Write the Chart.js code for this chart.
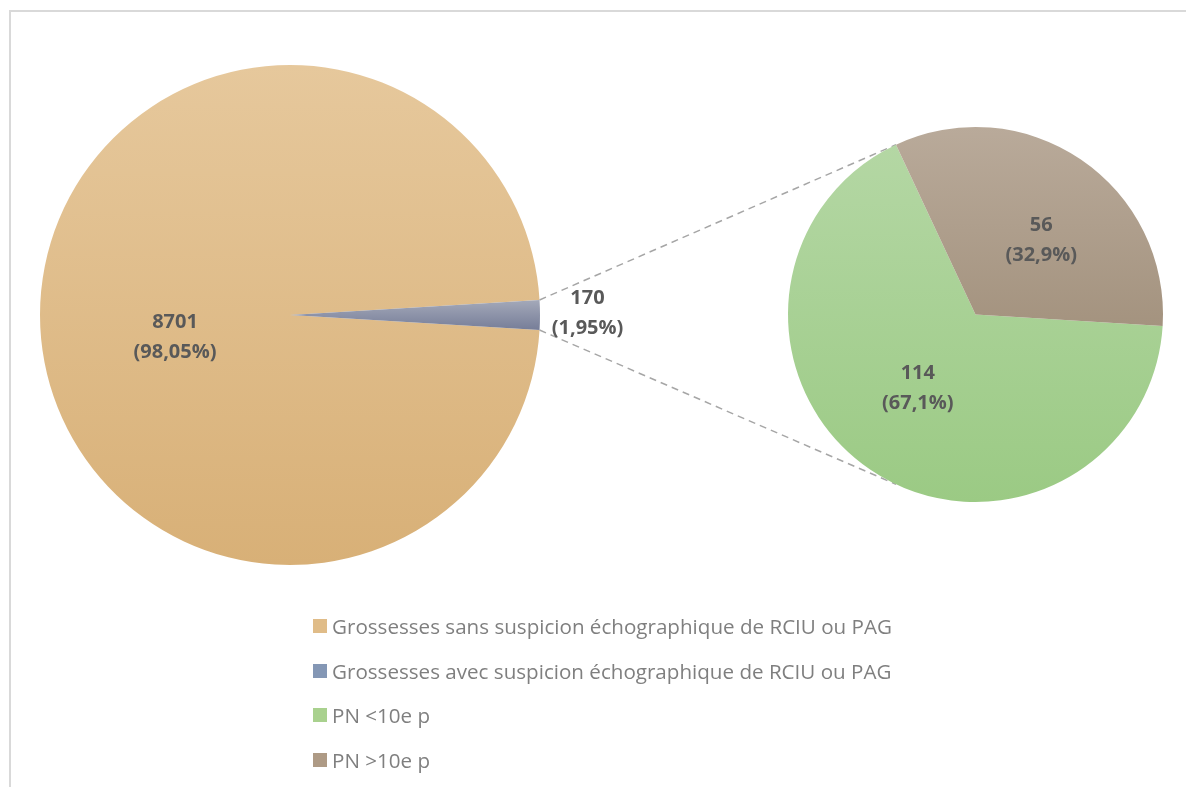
<!DOCTYPE html>
<html>
<head>
<meta charset="utf-8">
<script src="https://cdn.jsdelivr.net/npm/chart.js@4.4.1/dist/chart.umd.min.js"></script>
<style>
  body { margin: 0; background: #fff; }
  #wrap { position: relative; width: 1186px; height: 787px; overflow: hidden; background: #fff; }
  #cadre { position: absolute; left: 9px; top: 10px; width: 1300px; height: 900px;
           border-left: 2px solid #D9D9D9; border-top: 2px solid #D9D9D9; }
  #wrap canvas { position: absolute; left: 0; top: 0; }
  #legende { position: absolute; left: 313px; top: 604px; font-family: "Open Sans", sans-serif;
             font-size: 20.6px; color: #7F7F7F; }
  .item { height: 44.5px; display: flex; align-items: center; white-space: nowrap; }
  .carre { width: 14px; height: 14px; margin-right: 5px; flex: none; }
</style>
</head>
<body>
<div id="wrap">
  <div id="cadre"></div>
  <canvas id="camembert" width="1186" height="787"></canvas>
  <canvas id="sousCamembert" width="1186" height="787"></canvas>
  <div id="legende"></div>
</div>
<script>
const mainLabels = [
  "Grossesses sans suspicion échographique de RCIU ou PAG",
  "Grossesses avec suspicion échographique de RCIU ou PAG",
];
const mainValues = [8701, 170];
const mainPct = ["98,05%", "1,95%"];

const subLabels = ["PN <10e p", "PN >10e p"];
const subValues = [114, 56];
const subPct = ["67,1%", "32,9%"];

// couleurs [haut, bas] du dégradé de chaque part
const mainColors = [["#E6C89C", "#D8B077"], ["#A4A9B9", "#767D98"]];
const subColors = [["#B4D7A4", "#9BCA84"], ["#B9AA9A", "#A4937F"]];
const legendColors = ["#E0BC88", "#8497B5", "#A9D18E", "#AE9A85"];

// dégradé vertical sur la hauteur de la part
function sliceGradient(context, colors) {
  const chart = context.chart;
  const area = chart.chartArea;
  if (context.type !== "data" || !area) return colors[0][0];
  const i = context.dataIndex;
  const vals = chart.data.datasets[0].data;
  const total = vals.reduce((a, b) => a + b, 0);
  let start = (chart.options.rotation - 90) * Math.PI / 180;
  for (let k = 0; k < i; k++) start += vals[k] / total * 2 * Math.PI;
  const end = start + vals[i] / total * 2 * Math.PI;
  const ys = [0, Math.sin(start), Math.sin(end)];
  for (let a = Math.PI / 2 - 4 * Math.PI; a < end; a += Math.PI) {
    if (a > start) ys.push(Math.sin(a));
  }
  const r = Math.min(area.width, area.height) / 2;
  const cy = (area.top + area.bottom) / 2;
  const g = chart.ctx.createLinearGradient(0, cy + r * Math.min(...ys), 0, cy + r * Math.max(...ys));
  g.addColorStop(0, colors[i][0]);
  g.addColorStop(1, colors[i][1]);
  return g;
}

// étiquettes valeur + pourcentage ; place = [fraction du rayon, dx, dy]
function labelPlugin(values, pct, place) {
  return {
    id: "etiquettes",
    afterDatasetsDraw(chart) {
      const c = chart.ctx;
      const arcs = chart.getDatasetMeta(0).data;
      c.save();
      c.font = "bold 20px 'Open Sans'";
      c.fillStyle = "#595959";
      c.textAlign = "center";
      c.textBaseline = "middle";
      arcs.forEach((arc, i) => {
        const mid = (arc.startAngle + arc.endAngle) / 2;
        const d = arc.outerRadius * place[i][0];
        const x = arc.x + Math.cos(mid) * d + place[i][1];
        const y = arc.y + Math.sin(mid) * d + place[i][2];
        c.fillText(String(values[i]), x, y - 15);
        c.fillText("(" + pct[i] + ")", x, y + 15);
      });
      c.restore();
    },
  };
}

// petit camembert (à droite)
const sub = new Chart(document.getElementById("sousCamembert"), {
  type: "pie",
  data: {
    labels: subLabels,
    datasets: [{
      data: subValues,
      backgroundColor: (ctx) => sliceGradient(ctx, subColors),
      borderWidth: 0,
      hoverOffset: 0,
    }],
  },
  options: {
    responsive: false,
    animation: false,
    events: [],
    rotation: 93.5,
    layout: { padding: { left: 788, top: 127, right: 23, bottom: 285 } },
    plugins: { legend: { display: false }, tooltip: { enabled: false } },
  },
  plugins: [labelPlugin(subValues, subPct, [[0.5, -5, -4], [0.5, 13, 3]])],
});

// lignes pointillées entre la part bleue et le petit camembert
const connecteurs = {
  id: "connecteurs",
  afterDatasetsDraw(chart) {
    const a = chart.getDatasetMeta(0).data[1];
    const b = sub.getDatasetMeta(0).data[1];
    const c = chart.ctx;
    const p1 = [a.x + a.outerRadius * Math.cos(a.startAngle), a.y + a.outerRadius * Math.sin(a.startAngle)];
    const p2 = [a.x + a.outerRadius * Math.cos(a.endAngle), a.y + a.outerRadius * Math.sin(a.endAngle)];
    const q1 = [b.x + b.outerRadius * Math.cos(b.startAngle), b.y + b.outerRadius * Math.sin(b.startAngle)];
    const q2 = [q1[0], 2 * b.y - q1[1]];
    c.save();
    c.strokeStyle = "#A6A6A6";
    c.lineWidth = 1.5;
    c.setLineDash([7, 5]);
    c.beginPath();
    c.moveTo(p1[0], p1[1]);
    c.lineTo(q1[0], q1[1]);
    c.moveTo(p2[0], p2[1]);
    c.lineTo(q2[0], q2[1]);
    c.stroke();
    c.restore();
  },
};

const mainTotal = mainValues.reduce((a, b) => a + b, 0);
const blueAngle = 360 * mainValues[1] / mainTotal;

// grand camembert (à gauche)
new Chart(document.getElementById("camembert"), {
  type: "pie",
  data: {
    labels: mainLabels,
    datasets: [{
      data: mainValues,
      backgroundColor: (ctx) => sliceGradient(ctx, mainColors),
      borderWidth: 0,
      hoverOffset: 0,
    }],
  },
  options: {
    responsive: false,
    animation: false,
    events: [],
    rotation: 90 + blueAngle / 2,
    layout: { padding: { left: 40, top: 65, right: 646, bottom: 222 } },
    plugins: { legend: { display: false }, tooltip: { enabled: false } },
  },
  plugins: [connecteurs, labelPlugin(mainValues, mainPct, [[0.5, 10, 22], [1.19, 0, -2]])],
});

// légende commune
const legende = document.getElementById("legende");
mainLabels.concat(subLabels).forEach((txt, i) => {
  const item = document.createElement("div");
  item.className = "item";
  const sw = document.createElement("span");
  sw.className = "carre";
  sw.style.background = legendColors[i];
  item.appendChild(sw);
  item.appendChild(document.createTextNode(txt));
  legende.appendChild(item);
});
</script>
</body>
</html>
